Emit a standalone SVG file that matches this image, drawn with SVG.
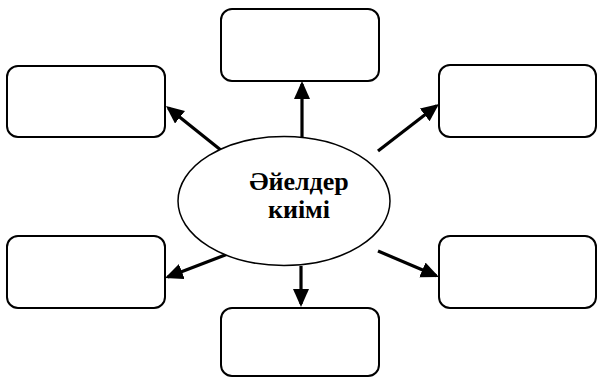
<svg xmlns="http://www.w3.org/2000/svg" width="597" height="379" viewBox="0 0 597 379">
<style>
.box{fill:#fff;stroke:#000;stroke-width:2}
.conn{stroke:#000;stroke-width:3.2;fill:none;marker-end:url(#ah)}
.lbl{font-family:"Liberation Serif","DejaVu Serif","Times New Roman",serif;font-weight:bold;font-size:26px;text-anchor:middle;fill:#000}
</style>
<defs>
<marker id="ah" markerUnits="userSpaceOnUse" markerWidth="19" markerHeight="17" refX="15" refY="8" orient="auto">
<path d="M0,0 L18,8 L0,16 z" fill="#000"/>
</marker>
</defs>
<rect width="597" height="379" fill="#fff"/>
<g id="connectors">
<line class="conn" x1="302" y1="137" x2="302" y2="84"/>
<line class="conn" x1="301" y1="266" x2="301" y2="304"/>
<line class="conn" x1="222" y1="151" x2="168.3" y2="107.9"/>
<line class="conn" x1="378" y1="151" x2="436.6" y2="105.8"/>
<line class="conn" x1="233" y1="252" x2="167.8" y2="276.9"/>
<line class="conn" x1="378" y1="251" x2="436.2" y2="275.8"/>
</g>
<g id="box-top"><rect class="box" x="221" y="9" width="158" height="72" rx="11"/></g>
<g id="box-left-top"><rect class="box" x="7" y="66" width="158" height="71" rx="11"/></g>
<g id="box-right-top"><rect class="box" x="439" y="65" width="157" height="72" rx="11"/></g>
<g id="box-left-bottom"><rect class="box" x="7" y="236" width="158" height="72" rx="11"/></g>
<g id="box-right-bottom"><rect class="box" x="439" y="236" width="157" height="72" rx="11"/></g>
<g id="box-bottom"><rect class="box" x="221" y="308" width="158" height="68" rx="11"/></g>
<g id="center">
<ellipse cx="284" cy="201" rx="106" ry="64.5" fill="#fff" stroke="#000" stroke-width="1.5"/>
<text class="lbl" x="299" y="190">Әйелдер</text>
<text class="lbl" x="299" y="218">киімі</text>
</g>
</svg>
